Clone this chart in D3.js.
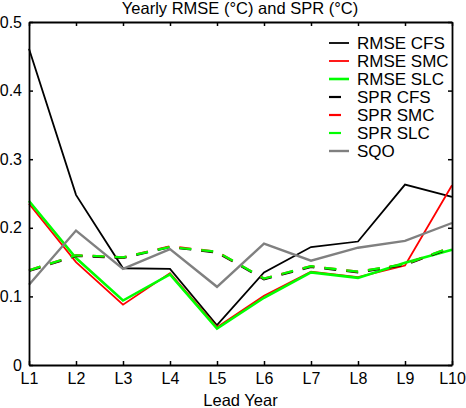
<!DOCTYPE html>
<html><head><meta charset="utf-8">
<script src="https://cdn.jsdelivr.net/npm/d3@7"></script>
<style>
html,body{margin:0;padding:0;background:#fff;}
text{font-family:"Liberation Sans",Arial,Helvetica,sans-serif;}
</style></head>
<body><svg id="c" width="466" height="408"></svg>
<script>
const leads = ["L1","L2","L3","L4","L5","L6","L7","L8","L9","L10"];
const yTicks = [0,0.1,0.2,0.3,0.4,0.5];
const rmseCFS = [0.461,0.248,0.141,0.140,0.058,0.135,0.172,0.180,0.263,0.245];
const rmseSMC = [0.235,0.150,0.088,0.134,0.055,0.101,0.136,0.128,0.145,0.262];
const rmseSLC = [0.239,0.156,0.094,0.132,0.053,0.098,0.135,0.127,0.149,0.168];
const sprCFS  = [0.137,0.159,0.156,0.172,0.164,0.125,0.143,0.135,0.146,0.171];
const sprSMC  = [0.138,0.160,0.157,0.173,0.165,0.126,0.144,0.136,0.147,0.172];
const sprSLC  = [0.138,0.160,0.157,0.172,0.165,0.126,0.144,0.136,0.147,0.172];
const sqo     = [0.117,0.196,0.140,0.169,0.114,0.177,0.152,0.171,0.181,0.207];

const series = [
  {name:"RMSE CFS", values:rmseCFS, color:"#000000", width:1.8, dash:null},
  {name:"RMSE SMC", values:rmseSMC, color:"#ff0000", width:1.8, dash:null},
  {name:"RMSE SLC", values:rmseSLC, color:"#00ff00", width:2.6, dash:null},
  {name:"SPR CFS",  values:sprCFS,  color:"#000000", width:2.2, dash:"12,10"},
  {name:"SPR SMC",  values:sprSMC,  color:"#ff0000", width:2.2, dash:"12,10"},
  {name:"SPR SLC",  values:sprSLC,  color:"#00ff00", width:2.2, dash:"12,10"},
  {name:"SQO",      values:sqo,     color:"#808080", width:2.4, dash:null}
];

const L=29, R=452, T=22, B=365;
const svg = d3.select("#c");
const x = d3.scalePoint().domain(leads).range([L,R]);
const y = d3.scaleLinear().domain([0,0.5]).range([B,T]);

const line = d3.line().x((d,i)=>x(leads[i])).y(d=>y(d));
const g = svg.append("g");
series.forEach(s=>{
  g.append("path").attr("d", line(s.values))
    .attr("fill","none").attr("stroke",s.color).attr("stroke-width",s.width)
    .attr("stroke-dasharray",s.dash).attr("stroke-linejoin","miter");
});

// axes
const fs = "16px";
const bx = svg.append("g").attr("transform",`translate(0,${B})`)
  .call(d3.axisBottom(x).tickSizeInner(-4).tickSizeOuter(0).tickPadding(8));
const tx = svg.append("g").attr("transform",`translate(0,${T})`)
  .call(d3.axisTop(x).tickSizeInner(-4).tickSizeOuter(0).tickFormat(""));
const ly = svg.append("g").attr("transform",`translate(${L},0)`)
  .call(d3.axisLeft(y).tickValues(yTicks).tickSizeInner(-4).tickSizeOuter(0).tickPadding(7).tickFormat(d=>d===0?"0":d3.format(".1f")(d)));
const ry = svg.append("g").attr("transform",`translate(${R},0)`)
  .call(d3.axisRight(y).tickValues(yTicks).tickSizeInner(-4).tickSizeOuter(0).tickFormat(""));
[bx,tx,ly,ry].forEach(a=>{
  a.select(".domain").attr("stroke","#000").attr("stroke-width",1.8);
  a.selectAll(".tick line").attr("stroke","#000").attr("stroke-width",1.5);
  a.selectAll(".tick text").attr("fill","#000").style("font-size",fs)
    .style("font-family","'Liberation Sans',Arial,sans-serif");
});
bx.selectAll(".tick text").attr("dy","0.71em").attr("y",8);
ly.selectAll(".tick text").attr("x",-7);

svg.append("text").attr("x",(L+R)/2).attr("y",406).attr("text-anchor","middle")
  .style("font-size","16.5px").text("Lead Year");
svg.append("text").attr("x",240).attr("y",14).attr("text-anchor","middle")
  .style("font-size","16.5px").text("Yearly RMSE (°C) and SPR (°C)");

// legend
const lg = svg.append("g");
series.forEach((s,i)=>{
  const yy = 43 + i*18;
  lg.append("line").attr("x1",329).attr("x2",349).attr("y1",yy).attr("y2",yy)
    .attr("stroke",s.color).attr("stroke-width",s.width).attr("stroke-dasharray",s.dash);
  lg.append("text").attr("x",357).attr("y",yy+6).style("font-size","17px").text(s.name);
});
</script></body></html>
